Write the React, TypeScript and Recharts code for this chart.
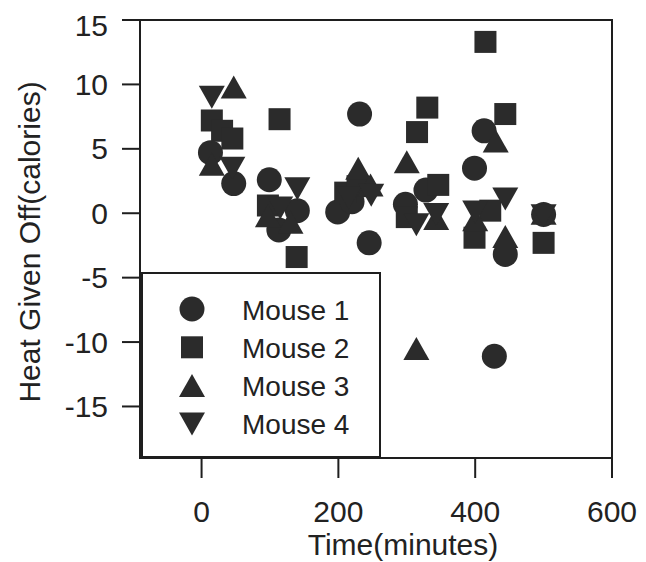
import { Legend, ReferenceArea, Scatter, ScatterChart, XAxis, YAxis } from "recharts";

// heat given off (calories) against time (minutes)
const mouse1 = [
  { t: 13, heat: 4.7 }, { t: 47, heat: 2.3 }, { t: 99, heat: 2.6 }, { t: 113, heat: -1.3 },
  { t: 140, heat: 0.2 }, { t: 199, heat: 0.1 }, { t: 220, heat: 0.9 }, { t: 231, heat: 7.7 },
  { t: 245, heat: -2.3 }, { t: 298, heat: 0.7 }, { t: 328, heat: 1.8 }, { t: 399, heat: 3.5 },
  { t: 413, heat: 6.4 }, { t: 428, heat: -11.1 }, { t: 444, heat: -3.2 }, { t: 500, heat: -0.1 },
];
const mouse2 = [
  { t: 15, heat: 7.2 }, { t: 30, heat: 6.4 }, { t: 45, heat: 5.8 }, { t: 97, heat: 0.6 },
  { t: 114, heat: 7.3 }, { t: 139, heat: -3.4 }, { t: 210, heat: 1.6 }, { t: 228, heat: 2.1 },
  { t: 300, heat: -0.3 }, { t: 315, heat: 6.3 }, { t: 330, heat: 8.2 }, { t: 346, heat: 2.2 },
  { t: 399, heat: -1.9 }, { t: 415, heat: 13.3 }, { t: 422, heat: 0.2 }, { t: 444, heat: 7.7 },
  { t: 500, heat: -2.3 },
];
const mouse3 = [
  { t: 15, heat: 3.8 }, { t: 47, heat: 9.8 }, { t: 97, heat: -0.2 }, { t: 130, heat: -0.7 },
  { t: 229, heat: 3.5 }, { t: 247, heat: 2.2 }, { t: 300, heat: 4.0 }, { t: 314, heat: -10.5 },
  { t: 343, heat: -0.4 }, { t: 400, heat: -0.5 }, { t: 430, heat: 5.6 }, { t: 444, heat: -1.8 },
  { t: 500, heat: 0.0 },
];
const mouse4 = [
  { t: 15, heat: 9.0 }, { t: 45, heat: 3.5 }, { t: 115, heat: 0.4 }, { t: 140, heat: 1.9 },
  { t: 215, heat: 1.2 }, { t: 248, heat: 1.4 }, { t: 314, heat: -0.9 }, { t: 343, heat: -0.1 },
  { t: 400, heat: 0.1 }, { t: 444, heat: 1.1 }, { t: 500, heat: -0.2 },
];

const xTicks = [0, 200, 400, 600];
const yTicks = [-15, -10, -5, 0, 5, 10, 15];

const INK = "#2b2b2b";
const LINE = "#1e1e1e";
const FONT = "'Liberation Sans', Arial, sans-serif";

type Mark = "circle" | "square" | "up" | "down";

function Marker({ cx, cy, kind }: { cx: number; cy: number; kind: Mark }) {
  if (kind === "circle") return <circle cx={cx} cy={cy} r={12.5} fill={INK} />;
  if (kind === "square") return <rect x={cx - 11} y={cy - 11} width={22} height={22} fill={INK} />;
  if (kind === "up")
    return <path d={`M${cx},${cy - 11.5}L${cx + 13},${cy + 11.5}L${cx - 13},${cy + 11.5}Z`} fill={INK} />;
  return <path d={`M${cx - 13},${cy - 11.5}L${cx + 13},${cy - 11.5}L${cx},${cy + 11.5}Z`} fill={INK} />;
}

const series: { name: string; data: { t: number; heat: number }[]; kind: Mark }[] = [
  { name: "Mouse 1", data: mouse1, kind: "circle" },
  { name: "Mouse 2", data: mouse2, kind: "square" },
  { name: "Mouse 3", data: mouse3, kind: "up" },
  { name: "Mouse 4", data: mouse4, kind: "down" },
];

function LegendBox() {
  return (
    <svg width={240} height={186} style={{ display: "block" }}>
      <rect x={1} y={1} width={238} height={184} fill="#fff" stroke={LINE} strokeWidth={2} />
      {series.map((s, i) => {
        const cy = 37 + i * 38.3;
        return (
          <g key={s.name}>
            <Marker cx={51} cy={cy} kind={s.kind} />
            <text x={101} y={cy + 10.5} fontSize={28} fontFamily={FONT} fill="#222">
              {s.name}
            </text>
          </g>
        );
      })}
    </svg>
  );
}

export default function App() {
  return (
    <ScatterChart width={630} height={554} margin={{ top: 12, right: 26, bottom: 14, left: 72 }}>
      <XAxis
        type="number"
        dataKey="t"
        domain={[-90, 600]}
        ticks={xTicks}
        height={90}
        stroke={LINE}
        axisLine={{ strokeWidth: 2 }}
        tickLine={{ strokeWidth: 2 }}
        tickSize={20}
        tickMargin={23}
        tick={{ fontSize: 30, fontFamily: FONT, fill: "#222" }}
        label={() => (
          <text x={395} y={547} textAnchor="middle" fontSize={30} fontFamily={FONT} fill="#222">
            Time(minutes)
          </text>
        )}
      />
      <YAxis
        type="number"
        dataKey="heat"
        domain={[-19, 15]}
        ticks={yTicks}
        width={60}
        stroke={LINE}
        axisLine={{ strokeWidth: 2 }}
        tickLine={{ strokeWidth: 2 }}
        tickSize={18}
        tickMargin={14}
        tick={{ fontSize: 30, fontFamily: FONT, fill: "#222" }}
        label={() => (
          <text
            x={32}
            y={234}
            transform="rotate(-90 32 234)"
            textAnchor="middle"
            fontSize={30}
            fontFamily={FONT}
            fill="#222"
          >
            Heat Given Off(calories)
          </text>
        )}
      />
      <ReferenceArea x1={-90} x2={600} y1={-19} y2={15} fill="none" stroke={LINE} strokeWidth={2} />
      {series.map((s) => (
        <Scatter
          key={s.name}
          name={s.name}
          data={s.data}
          isAnimationActive={false}
          shape={(p: any) => <Marker cx={p.cx} cy={p.cy} kind={s.kind} />}
        />
      ))}
      <Legend
        layout="vertical"
        align="center"
        verticalAlign="middle"
        content={() => <LegendBox />}
        wrapperStyle={{ left: 133, top: 264, width: 240, height: 186 }}
      />
    </ScatterChart>
  );
}
